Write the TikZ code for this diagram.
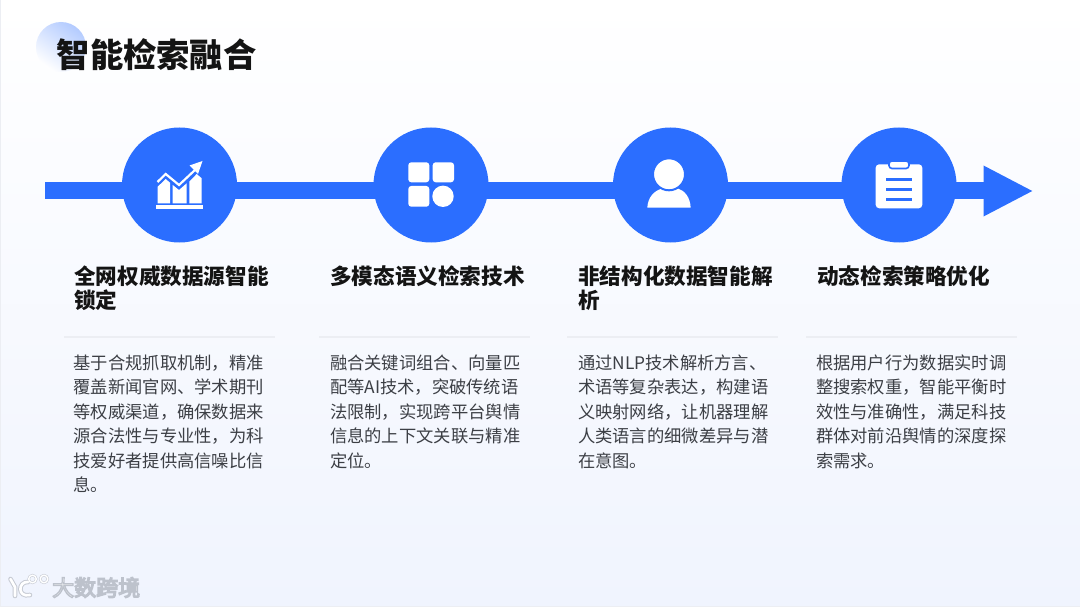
\documentclass[tikz,border=0pt]{standalone}
\usepackage{fontspec}
\setmainfont{Noto Sans CJK SC}
\usetikzlibrary{positioning,arrows.meta}

\definecolor{flowblue}{HTML}{2B6EFF}
\definecolor{pagetint}{HTML}{F0F4FE}
\definecolor{rulegray}{HTML}{ECEEF3}
\definecolor{bodygray}{HTML}{3C3F45}
\definecolor{logoedge}{HTML}{C6CAD3}

\tikzstyle{hub} = [circle, minimum size=115pt, inner sep=0pt, fill=flowblue]
\tikzstyle{heading} = [anchor=north west, inner sep=0pt, align=left, text=black!92, font=\fontsize{21.6}{24}\selectfont\bfseries]
\tikzstyle{rule} = [rectangle, minimum width=211pt, minimum height=1.4pt, inner sep=0pt, fill=rulegray]
\tikzstyle{body} = [inner sep=0pt, align=left, text=bodygray, font=\fontsize{17.3}{24.5}\selectfont]
\tikzstyle{bar} = [line width=17pt, draw=flowblue, -{Triangle[length=50pt,width=47pt]}]
\tikzstyle{icon} = [fill=white, draw=none]

\begin{document}
\begin{tikzpicture}[x=1pt,y=-1pt]

			\useasboundingbox (0,0) rectangle (1080,607);
			\shade [top color=white, bottom color=pagetint] (0,0) rectangle (1080,607);
			\draw [rulegray, line width=1pt] (0.5,0) -- (0.5,606.5) -- (1080,606.5);

			\shade [left color=flowblue!36!white, right color=white, shading angle=-35] (61,47) circle (25pt);
			\node (title) [anchor=west, inner sep=0pt, text=black!92, font=\fontsize{33.3}{36}\selectfont\bfseries] at (56.5,55) {智能检索融合};

			\coordinate (barstart) at (45,191);
			\coordinate (bartip) at (1033.5,191);
			\draw [bar] (barstart) -- (bartip);

			\node (hubchart) [hub] at (179.5,185) {};
			\node (hubgrid) [hub] at (431,185) {};
			\node (hubuser) [hub] at (670.5,185) {};
			\node (hubnote) [hub] at (899,185) {};

			\fill [icon] (156,205) rectangle (203,209);
			\fill [icon] (157.7,203.3) -- (157.7,186.7) -- (165.7,179) -- (170,182.7) -- (170,203.3) -- cycle;
			\fill [icon] (172.7,203.3) -- (172.7,185) -- (179,190) -- (186.7,183.3) -- (186.7,203.3) -- cycle;
			\fill [icon] (189.3,203.3) -- (189.3,181.7) -- (196.7,174) -- (201.7,178.3) -- (201.7,203.3) -- cycle;
			\draw [white, line width=2.2pt] (157.5,182) -- (165.7,174) -- (179,185) -- (195,170);
			\fill [icon] (202.5,161) -- (189.5,165.5) -- (198,174) -- cycle;

			\fill [icon, rounded corners=3pt] (408.3,162.3) rectangle (429.3,182.3);
			\fill [icon, rounded corners=3pt] (432.7,162.3) rectangle (454,182.3);
			\fill [icon, rounded corners=3pt] (408.3,186) rectangle (429.3,206.7);
			\fill [icon] (443,196.3) circle (10.7pt);

			\fill [icon] (647.3,207.7) .. controls (648,197) and (654,191) .. (662,188.5) -- (678,188.5) .. controls (685,191) and (690,197) .. (690.7,207.7) -- cycle;
			\filldraw [fill=white, draw=flowblue, line width=2pt] (669,174.3) circle (16pt);

			\fill [icon, rounded corners=3.5pt] (875.7,164.3) rectangle (922.3,208.3);
			\filldraw [fill=white, draw=flowblue, line width=1.6pt, rounded corners=3pt] (889,161) rectangle (909,168.5);
			\foreach \liney in {180,189.7,199.7}
				\fill [flowblue] (885.7,\liney-1.5) rectangle (912.3,\liney+1.5);

			\node (head1) [heading] at (74,266) {全网权威数据源智能\\锁定};
			\node (head2) [heading] at (330,266) {多模态语义检索技术};
			\node (head3) [heading] at (578,266) {非结构化数据智能解\\析};
			\node (head4) [heading] at (817,266) {动态检索策略优化};

			\node (rule1) [rule] at (169,337) {};
			\node (rule2) [rule] at (424.5,337) {};
			\node (rule3) [rule] at (672.5,337) {};
			\node (rule4) [rule] at (911.5,337) {};

			\node (body1) [body, below right=16.5pt and 10pt of rule1.south west] {
				基于合规抓取机制，精准\\
				覆盖新闻官网、学术期刊\\
				等权威渠道，确保数据来\\
				源合法性与专业性，为科\\
				技爱好者提供高信噪比信\\
				息。
			};
			\node (body2) [body, below right=16.5pt and 11pt of rule2.south west] {
				融合关键词组合、向量匹\\
				配等AI技术，突破传统语\\
				法限制，实现跨平台舆情\\
				信息的上下文关联与精准\\
				定位。
			};
			\node (body3) [body, below right=16.5pt and 11pt of rule3.south west] {
				通过NLP技术解析方言、\\
				术语等复杂表达，构建语\\
				义映射网络，让机器理解\\
				人类语言的细微差异与潜\\
				在意图。
			};
			\node (body4) [body, below right=16.5pt and 10pt of rule4.south west] {
				根据用户行为数据实时调\\
				整搜索权重，智能平衡时\\
				效性与准确性，满足科技\\
				群体对前沿舆情的深度探\\
				索需求。
			};

			\foreach \logow/\logoc in {4.6/logoedge,2.6/white} {
				\draw [\logoc, line width=\logow pt, line cap=round] (10.5,579) -- (15,587) -- (15,596);
				\draw [\logoc, line width=\logow pt, line cap=round] (28,582) .. controls (18,581) and (17,598) .. (30,595);
				\draw [\logoc, line width=0.55*\logow pt] (32.5,579) circle (3.8pt);
				\draw [\logoc, line width=0.55*\logow pt] (44,579) circle (3.8pt);
			}
			\node (brand) [anchor=west, inner sep=0pt, text=white, font=\fontsize{22}{24}\selectfont] at (52,587.5) {\special{pdf:code 2 Tr 1.3 w 0.74 0.76 0.8 RG}大数跨境\special{pdf:code 0 Tr}};

		\end{tikzpicture}
\end{document}
